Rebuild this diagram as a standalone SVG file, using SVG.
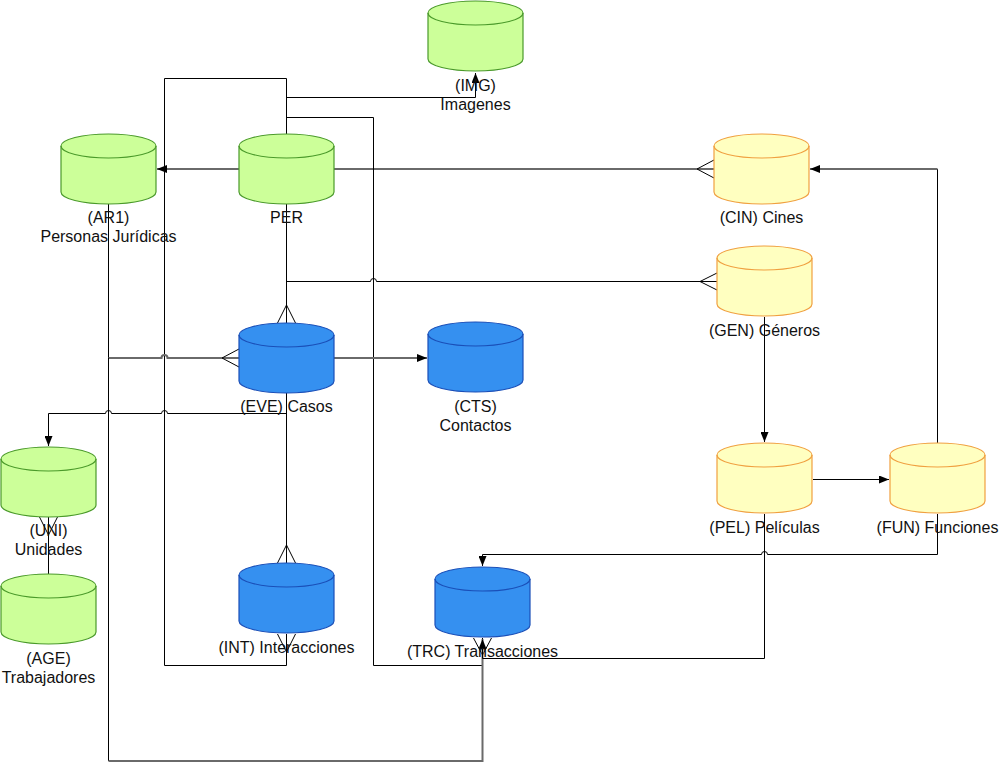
<svg xmlns="http://www.w3.org/2000/svg" xmlns:xlink="http://www.w3.org/1999/xlink" width="999" height="762" viewBox="0 0 999 762">
<style>
text{font-family:"Liberation Sans",Arial,sans-serif;font-size:16px;fill:#111;text-anchor:middle}
.g{fill:#ccff99;stroke:#4a9a2a;stroke-width:1.2}
.b{fill:#3590f0;stroke:#1a4fb8;stroke-width:1.2}
.y{fill:#ffffc0;stroke:#f0a040;stroke-width:1.2}
.top{fill:none}
.c path{fill:none;stroke:#000;stroke-width:1}
.c path.gr{stroke:#6a6a6a;stroke-width:2}
.c path.m{marker-end:url(#arr)}
</style>
<defs>
<marker id="arr" markerUnits="userSpaceOnUse" markerWidth="10" markerHeight="8" refX="10" refY="4" orient="auto">
<path d="M0,0 L10,4 L0,8 Z" fill="#000"/>
</marker>
<path id="cyl" d="M0,12 A47.5,12 0 0 1 95,12 V58 A47.5,12 0 0 1 0,58 Z"/>
<path id="cylTop" d="M0,12 A47.5,12 0 0 0 95,12"/>
</defs>
<rect width="999" height="762" fill="#fff"/>

<g id="connectors" class="c">
<path class="gr m" d="M239,169 H157"/>
<path class="gr" d="M333,169 H714"/>
<path d="M714,160 L697,169 L714,178"/>
<path d="M286.5,134 V78.5 H164.5 V665.5 H286.5 V634"/>
<path d="M277.5,634 L286.5,652 L295.5,634"/>
<path class="m" d="M286.5,97.5 H475.5 V73"/>
<path d="M286.5,117.5 H373.5 V665.5 H482.5 V638"/>
<path d="M473.5,638 L482.5,655 L491.5,638"/>
<path d="M286.5,204 V323"/>
<path d="M277.5,323 L286.5,305 L295.5,323"/>
<path d="M286.5,281.5 H370.5 A3,3 0 0 1 376.5,281.5 H717"/>
<path d="M717,273 L700,281.5 L717,290"/>
<path d="M108.5,204 V358"/>
<path class="gr" d="M108.5,358 H161.5 A3,3 0 0 1 167.5,358 H239"/>
<path d="M239,349 L222,358 L239,367"/>
<path d="M108.5,358 V761"/>
<path class="gr m" d="M108.5,761 H482.5 V639"/>
<path class="gr m" d="M334,358 H427"/>
<path class="m" d="M286.5,393 V413.5 H167.5 A3,3 0 0 0 161.5,413.5 H111.5 A3,3 0 0 0 105.5,413.5 H48.5 V446"/>
<path d="M286.5,393 V563"/>
<path d="M277.5,563 L286.5,545 L295.5,563"/>
<path d="M48.5,574 V517"/>
<path d="M39.5,517 L48.5,535 L57.5,517"/>
<path class="m" d="M764.5,317 V442"/>
<path class="m" d="M813,479.5 H889"/>
<path d="M937.5,443 V169"/>
<path class="gr m" d="M937.5,169 H810"/>
<path class="m" d="M937.5,514 V554.5 H767.5 A3,3 0 0 0 761.5,554.5 H482.5 V566"/>
<path d="M764.5,514 V658.5 H482.5 V640"/>
</g>

<g id="IMG"><use href="#cyl" x="428" y="1" class="g"/><use href="#cylTop" x="428" y="1" class="g top"/><text x="475.5" y="91">(IMG)</text><text x="475.5" y="110">Imagenes</text></g>
<g id="PER"><use href="#cyl" x="239" y="134" class="g"/><use href="#cylTop" x="239" y="134" class="g top"/><text x="286.5" y="223">PER</text></g>
<g id="AR1"><use href="#cyl" x="61" y="134" class="g"/><use href="#cylTop" x="61" y="134" class="g top"/><text x="108.5" y="223">(AR1)</text><text x="108.5" y="242">Personas Jurídicas</text></g>
<g id="CIN"><use href="#cyl" x="714" y="134" class="y"/><use href="#cylTop" x="714" y="134" class="y top"/><text x="761.5" y="223">(CIN) Cines</text></g>
<g id="GEN"><use href="#cyl" x="717" y="246" class="y"/><use href="#cylTop" x="717" y="246" class="y top"/><text x="764.5" y="336">(GEN) Géneros</text></g>
<g id="EVE"><use href="#cyl" x="239" y="323" class="b"/><use href="#cylTop" x="239" y="323" class="b top"/><text x="286.5" y="412">(EVE) Casos</text></g>
<g id="CTS"><use href="#cyl" x="428" y="322" class="b"/><use href="#cylTop" x="428" y="322" class="b top"/><text x="475.5" y="412">(CTS)</text><text x="475.5" y="431">Contactos</text></g>
<g id="UNI"><use href="#cyl" x="1" y="447" class="g"/><use href="#cylTop" x="1" y="447" class="g top"/><text x="48.5" y="536">(UNI)</text><text x="48.5" y="555">Unidades</text></g>
<g id="AGE"><use href="#cyl" x="1" y="574" class="g"/><use href="#cylTop" x="1" y="574" class="g top"/><text x="48.5" y="664">(AGE)</text><text x="48.5" y="683">Trabajadores</text></g>
<g id="INT"><use href="#cyl" x="239" y="563" class="b"/><use href="#cylTop" x="239" y="563" class="b top"/><text x="286.5" y="653">(INT) Interacciones</text></g>
<g id="TRC"><use href="#cyl" x="435" y="567" class="b"/><use href="#cylTop" x="435" y="567" class="b top"/><text x="482.5" y="657">(TRC) Transacciones</text></g>
<g id="PEL"><use href="#cyl" x="717" y="443" class="y"/><use href="#cylTop" x="717" y="443" class="y top"/><text x="764.5" y="533">(PEL) Películas</text></g>
<g id="FUN"><use href="#cyl" x="890" y="443" class="y"/><use href="#cylTop" x="890" y="443" class="y top"/><text x="937.5" y="533">(FUN) Funciones</text></g>
</svg>
